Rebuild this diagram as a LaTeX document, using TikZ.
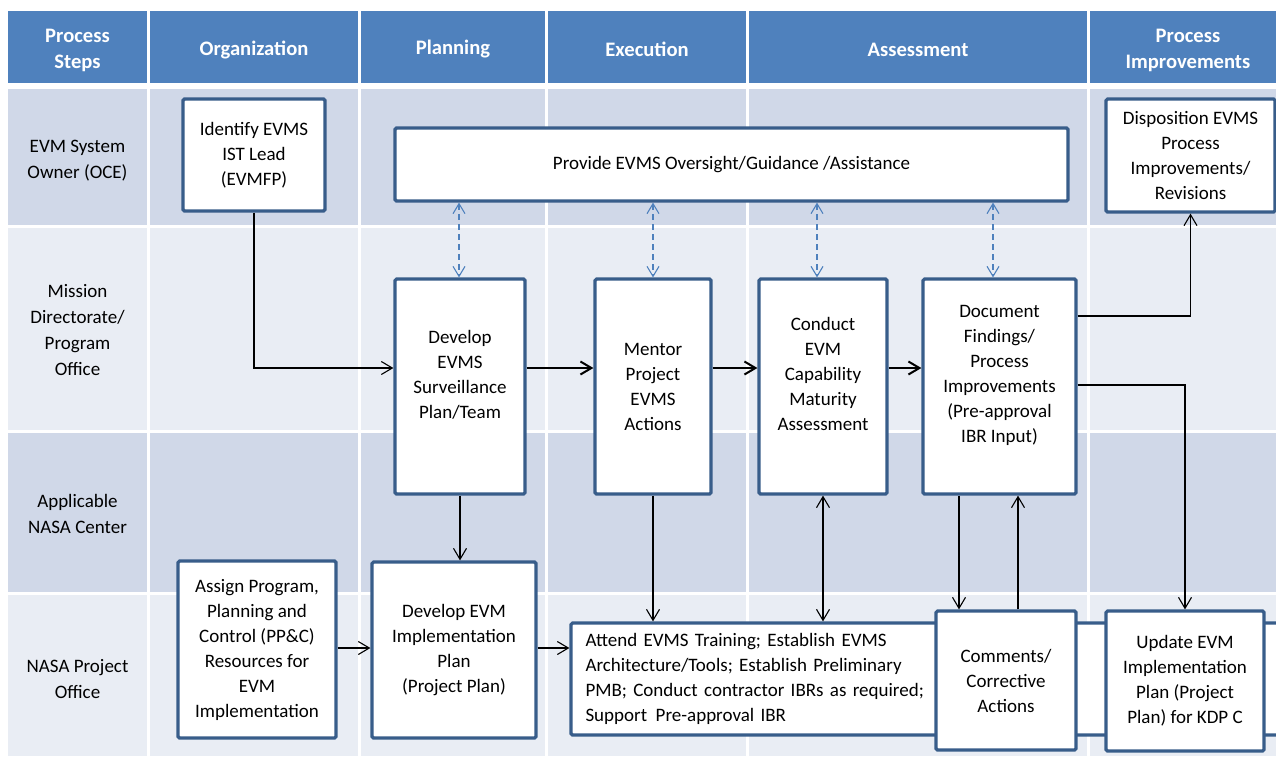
\documentclass[tikz,border=0pt]{standalone}
\usepackage{fontspec}
\setmainfont{Carlito}
\usetikzlibrary{arrows.meta,calc}
\definecolor{hdr}{RGB}{79,129,189}
\definecolor{rowD}{RGB}{208,216,232}
\definecolor{rowL}{RGB}{233,237,244}
\definecolor{bord}{RGB}{56,93,138}
\definecolor{dashblue}{RGB}{79,129,189}
\begin{document}
\begin{tikzpicture}[x=1pt,y=-1pt,
  box/.style={draw=bord, line width=3.2pt, fill=white, rounded corners=1.5pt, align=center,
    font=\fontsize{19}{25}\selectfont, inner sep=2pt},
  lbl/.style={align=center, font=\fontsize{19}{26}\selectfont},
  hd/.style={align=center, text=white, font=\fontsize{20.6}{26}\bfseries\selectfont},
  arr/.style={line width=1.1pt, -{Straight Barb[length=11pt,width=13pt]}},
  arrT/.style={line width=2pt, -{Straight Barb[length=11pt,width=13pt]}},
  darr/.style={draw=dashblue, line width=1.1pt, dash pattern=on 6pt off 4pt,
    {Straight Barb[length=10pt,width=12pt]}-{Straight Barb[length=10pt,width=12pt]}},
  barr/.style={line width=1.1pt, {Straight Barb[length=11pt,width=13pt]}-{Straight Barb[length=11pt,width=13pt]}}
]
\useasboundingbox (0,0) rectangle (1276,756);
% background grid
\fill[hdr]  (8,11)  rectangle (1276,83);
\fill[rowD] (8,89)  rectangle (1276,225);
\fill[rowL] (8,228) rectangle (1276,430);
\fill[rowD] (8,433) rectangle (1276,592);
\fill[rowL] (8,595) rectangle (1276,756);
\foreach \x in {148.5,359.5,546.5,747.5,1088.5}
  \draw[white, line width=3pt] (\x,11) -- (\x,756);

% header
\node[hd] (h0) at (77.5,50.5) {Process\\Steps};
\node[hd] (h1) at (254,49.5) {Organization};
\node[hd] (h2) at (453,49.5) {Planning};
\node[hd] (h3) at (647,49.5) {Execution};
\node[hd] (h4) at (918,49.5) {Assessment};
\node[hd] (h5) at (1188,50.5) {Process\\Improvements};

% row labels
\node[lbl] (r1) at (77.5,160.5) {EVM System\\Owner (OCE)};
\node[lbl] (r2) at (77.5,330) {Mission\\Directorate/\\Program\\Office};
\node[lbl] (r3) at (77.5,514) {Applicable\\NASA Center};
\node[lbl] (r4) at (77.5,679) {NASA Project\\Office};

% boxes
\node[box, minimum width=142, minimum height=112] (ident) at (254,155) {Identify EVMS\\IST Lead\\(EVMFP)};
\node[box, minimum width=673, minimum height=73] (provide) at (731.5,164.5) {Provide EVMS Oversight/Guidance /Assistance};
\node[box, minimum width=169, minimum height=113] (dispo) at (1190.5,155.5) {Disposition EVMS\\Process\\Improvements/\\Revisions};

\node[box, minimum width=130, minimum height=215] (dev) at (460,386.5) {Develop\\EVMS\\Surveillance\\Plan/Team\\\mbox{}};
\node[box, minimum width=116, minimum height=215] (mentor) at (653,386.5) {Mentor\\Project\\EVMS\\Actions};
\node[box, minimum width=128, minimum height=215] (conduct) at (823,386.5) {Conduct\\EVM\\Capability\\Maturity\\Assessment\\\mbox{}};
\node[box, minimum width=153, minimum height=215] (docf) at (999.5,386.5) {Document\\Findings/\\Process\\Improvements\\(Pre-approval\\IBR Input)\\\mbox{}};

\node[box, minimum width=158, minimum height=177] (assign) at (257,649.5) {Assign Program,\\Planning and\\Control (PP\&C)\\Resources for\\EVM\\Implementation};
\node[box, minimum width=164, minimum height=176] (devimpl) at (454,650) {Develop EVM\\Implementation\\Plan\\(Project Plan)};

\node[box, align=left, minimum width=719, minimum height=112, text width=690, inner xsep=14pt] (attend) at (930.5,679)
  {Attend EVMS Training; Establish EVMS\\Architecture/Tools; Establish Preliminary\\PMB; Conduct contractor IBRs as required;\\Support\hspace{0.45em}Pre-approval IBR};
\node[box, minimum width=140, minimum height=139] (comments) at (1006,680.5) {Comments/\\Corrective\\Actions};
\node[box, minimum width=158, minimum height=140] (update) at (1185,681) {Update EVM\\Implementation\\Plan (Project\\Plan) for KDP C};

% connectors
\coordinate (m) at (0,368);
\draw[arr] (ident.south) |- (dev.west |- m);
\draw[arrT] (dev.east |- m) -- (mentor.west |- m);
\draw[arrT] (mentor.east |- m) -- (conduct.west |- m);
\draw[arrT] (conduct.east |- m) -- (docf.west |- m);

\coordinate (c1) at ([xshift=-1pt]dev.north);
\coordinate (c2) at (mentor.north);
\coordinate (c3) at ([xshift=-6pt]conduct.north);
\coordinate (c4) at ([xshift=-6.5pt]docf.north);
\foreach \c in {c1,c2,c3,c4}
  \draw[darr] (provide.south -| \c) -- (\c);

\coordinate (e1) at (0,316);
\coordinate (e2) at (0,385);
\draw[arr] (docf.east |- e1) -| (dispo.south);
\draw[arr] (docf.east |- e2) -| (update.north);

\draw[arr] (dev.south) -- (dev.south |- devimpl.north);
\draw[arr] (mentor.south) -- (mentor.south |- attend.north);
\draw[barr] (conduct.south) -- (conduct.south |- attend.north);

\coordinate (d3) at ([xshift=-40.5pt]docf.south);
\coordinate (d4) at ([xshift=18.5pt]docf.south);
\draw[arr] (d3) -- (d3 |- comments.north);
\draw[arr] (d4 |- comments.north) -- (d4);

\coordinate (p) at (0,648);
\draw[arr] (assign.east |- p) -- (devimpl.west |- p);
\draw[arr] (devimpl.east |- p) -- (attend.west |- p);
\end{tikzpicture}
\end{document}
